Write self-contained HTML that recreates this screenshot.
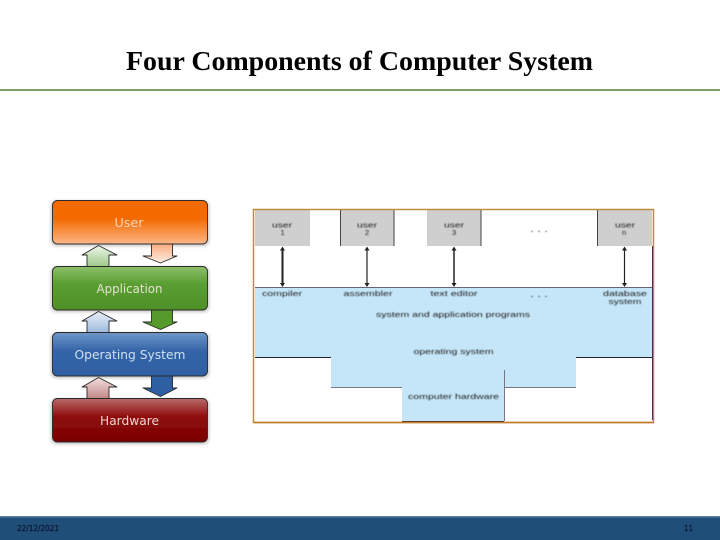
<!DOCTYPE html>
<html><head><meta charset="utf-8"><style>
html,body{margin:0;padding:0;background:#fff}
svg{display:block}
</style></head><body>
<svg xmlns="http://www.w3.org/2000/svg" width="720" height="540" viewBox="0 0 720 540">
<defs>
<linearGradient id="gU" x1="0" y1="0" x2="0" y2="1"><stop offset="0" stop-color="#f56a00"/><stop offset=".42" stop-color="#f56a00"/><stop offset="1" stop-color="#fbb78a"/></linearGradient>
<linearGradient id="gA" x1="0" y1="0" x2="0" y2="1"><stop offset="0" stop-color="#8cc06a"/><stop offset=".4" stop-color="#5a9e32"/><stop offset="1" stop-color="#4e9028"/></linearGradient>
<linearGradient id="gO" x1="0" y1="0" x2="0" y2="1"><stop offset="0" stop-color="#6f97c8"/><stop offset=".42" stop-color="#3465a8"/><stop offset="1" stop-color="#2f5fa3"/></linearGradient>
<linearGradient id="gH" x1="0" y1="0" x2="0" y2="1"><stop offset="0" stop-color="#b96a6a"/><stop offset=".42" stop-color="#8f0c0c"/><stop offset="1" stop-color="#7a0000"/></linearGradient>
<linearGradient id="aU" x1="0" y1="0" x2="0" y2="1"><stop offset="0" stop-color="#f9a878"/><stop offset="1" stop-color="#fdeee4"/></linearGradient>
<linearGradient id="aG" x1="0" y1="0" x2="0" y2="1"><stop offset="0" stop-color="#eef6ea"/><stop offset="1" stop-color="#9cc888"/></linearGradient>
<linearGradient id="aB" x1="0" y1="0" x2="0" y2="1"><stop offset="0" stop-color="#e8eff8"/><stop offset="1" stop-color="#9db9dc"/></linearGradient>
<linearGradient id="aR" x1="0" y1="0" x2="0" y2="1"><stop offset="0" stop-color="#f2e0e0"/><stop offset="1" stop-color="#c08484"/></linearGradient>
<linearGradient id="foot" x1="0" y1="0" x2="0" y2="1"><stop offset="0" stop-color="#6d8ca8"/><stop offset=".1" stop-color="#1f4e79"/><stop offset="1" stop-color="#1f4e79"/></linearGradient>
<filter id="soft" x="-20%" y="-20%" width="140%" height="140%"><feGaussianBlur stdDeviation="0.35"/></filter>
<filter id="soft2" x="-20%" y="-50%" width="140%" height="200%"><feGaussianBlur stdDeviation="0.45"/></filter>
<filter id="shadow" x="-10%" y="-20%" width="120%" height="140%"><feGaussianBlur stdDeviation="1.5"/></filter>
</defs>

<rect width="720" height="540" fill="#fff"/>

<text x="126" y="70" font-family="'Liberation Serif',serif" font-weight="bold" font-size="27" fill="#000" textLength="467" lengthAdjust="spacingAndGlyphs">Four Components of Computer System</text>
<rect x="0" y="89" width="720" height="2" fill="#7f9f63"/>

<!-- left stack -->
<g filter="url(#shadow)" opacity=".35" fill="#555">
<rect x="51" y="201" width="158" height="45" rx="5"/>
<rect x="51" y="267" width="158" height="45" rx="5"/>
<rect x="51" y="333" width="158" height="45" rx="5"/>
<rect x="51" y="399" width="158" height="45" rx="5"/>
</g>
<g stroke="#2a2a2a" stroke-width="0.9" stroke-linejoin="round" filter="url(#soft)">
<path d="M151.500 243V256L143 256L160.500 263L177 256L172.500 256V243Z" fill="url(#aU)"/>
<path d="M151.500 309V322L143 322L160.500 329.500L177 322L172.500 322V309Z" fill="#559a2c"/>
<path d="M151.500 375V388L143 388L160.500 396.500L177 388L172.500 388V375Z" fill="#2f5fa3"/>
<path d="M87 267V255L82 255L98.500 245.500L117 255L109 255V267Z" fill="url(#aG)"/>
<path d="M87 333V321L82 321L98.500 311.500L117 321L109 321V333Z" fill="url(#aB)"/>
<path d="M87 399V387L82 387L98.500 377.500L117 387L109 387V399Z" fill="url(#aR)"/>
<rect x="52.500" y="200.500" width="155" height="43.500" rx="5" fill="url(#gU)"/>
<rect x="52.500" y="266.500" width="155" height="43.500" rx="5" fill="url(#gA)"/>
<rect x="52.500" y="332.500" width="155" height="43.500" rx="5" fill="url(#gO)"/>
<rect x="52.500" y="398.500" width="155" height="43.500" rx="5" fill="url(#gH)"/>
</g>
<g font-family="'DejaVu Sans','Liberation Sans',sans-serif" font-size="12.500" fill="#f6e6e0" filter="url(#soft)" opacity=".92">
<text x="114.500" y="227" fill="#fddcc4" textLength="29" lengthAdjust="spacingAndGlyphs">User</text>
<text x="96.500" y="293" textLength="66" lengthAdjust="spacingAndGlyphs">Application</text>
<text x="74.500" y="359" fill="#dfeaf6" textLength="111" lengthAdjust="spacingAndGlyphs">Operating System</text>
<text x="100" y="425" textLength="59" lengthAdjust="spacingAndGlyphs">Hardware</text>
</g>

<!-- right diagram -->
<rect x="253" y="209.500" width="400.500" height="213" fill="#fff"/>
<g filter="url(#soft)">
<rect x="255" y="210" width="55" height="36" fill="#cfcfcf"/>
<rect x="340" y="210" width="54" height="36" fill="#cfcfcf"/>
<rect x="427" y="210" width="54" height="36" fill="#cfcfcf"/>
<rect x="597" y="210" width="55" height="36" fill="#cfcfcf"/>
<path d="M340.500 210V246M394 210V246M481 210V246M597.500 210V246" stroke="#444" stroke-width="1" fill="none"/>
<path d="M255 287.500H652V357H576V387H504.500V421H402V387H331V357H255Z" fill="#c5e6f8"/>
<path d="M255 287.500H652" stroke="#667" stroke-width="1"/>
<path d="M255 357.500H331M576 357.500H652" stroke="#223" stroke-width="1"/>
<path d="M331 387.500H402M504 387.500H576" stroke="#778" stroke-width="1"/>
<path d="M504.500 370V421" stroke="#778" stroke-width="1"/>
<path d="M402 421.500H504" stroke="#223" stroke-width="1"/>
<g fill="#222" stroke="#222">
<path d="M282.500 250V283" stroke-width="2"/><path d="M282.500 246.500l-2.500 4h5zM282.500 287l-2.500 -4h5z" stroke="none"/>
<path d="M367 250V283" stroke-width="1.200"/><path d="M367 246.500l-2.500 4h5zM367 287l-2.500 -4h5z" stroke="none"/>
<path d="M454 250V283" stroke-width="1.500"/><path d="M454 246.500l-2.500 4h5zM454 287l-2.500 -4h5z" stroke="none"/>
<path d="M624.500 250V283" stroke-width="1.200"/><path d="M624.500 246.500l-2.500 4h5zM624.500 287l-2.500 -4h5z" stroke="none"/>
</g>
</g>
<g font-family="'Liberation Sans',sans-serif" font-size="7.500" fill="#222" filter="url(#soft2)">
<text x="272" y="227.500" textLength="20" lengthAdjust="spacingAndGlyphs">user</text><text x="280.500" y="235">1</text>
<text x="357" y="227.500" textLength="20" lengthAdjust="spacingAndGlyphs">user</text><text x="365" y="235">2</text>
<text x="444" y="227.500" textLength="20" lengthAdjust="spacingAndGlyphs">user</text><text x="452" y="235">3</text>
<text x="615" y="227.500" textLength="20" lengthAdjust="spacingAndGlyphs">user</text><text x="622" y="235">n</text>
<text x="531" y="232" font-weight="bold" textLength="16" lengthAdjust="spacing">. . .</text>
<text x="531" y="297" font-weight="bold" textLength="16" lengthAdjust="spacing">. . .</text>
<text x="262" y="296" textLength="40" lengthAdjust="spacingAndGlyphs">compiler</text>
<text x="343.500" y="296" textLength="49" lengthAdjust="spacingAndGlyphs">assembler</text>
<text x="430.500" y="296" textLength="47" lengthAdjust="spacingAndGlyphs">text editor</text>
<text x="603" y="296" textLength="44" lengthAdjust="spacingAndGlyphs">database</text>
<text x="608.500" y="304" textLength="33" lengthAdjust="spacingAndGlyphs">system</text>
<text x="376" y="317" textLength="154" lengthAdjust="spacingAndGlyphs">system and application programs</text>
<text x="413.500" y="354" textLength="80" lengthAdjust="spacingAndGlyphs">operating system</text>
<text x="408" y="399" textLength="91" lengthAdjust="spacingAndGlyphs">computer hardware</text>
</g>
<g filter="url(#soft)" fill="none">
<path d="M253.500 209.500H653.500V422.500H253.500Z" stroke="#c08a45" stroke-width="1.500"/>
<path d="M652.500 246V420" stroke="#443344" stroke-width="1"/>
<path d="M254 422.500H654" stroke="#c47a25" stroke-width="1.500"/>
</g>

<!-- footer -->
<rect x="0" y="516" width="720" height="24" fill="url(#foot)"/>
<g font-family="'DejaVu Sans','Liberation Sans',sans-serif" font-size="8" fill="#0a1428" stroke="#0a1428" stroke-width="0.2" filter="url(#soft)">
<text x="17" y="531" textLength="42" lengthAdjust="spacingAndGlyphs">22/12/2021</text>
<text x="684" y="531" textLength="9" lengthAdjust="spacingAndGlyphs">11</text>
</g>
</svg>
</body></html>
